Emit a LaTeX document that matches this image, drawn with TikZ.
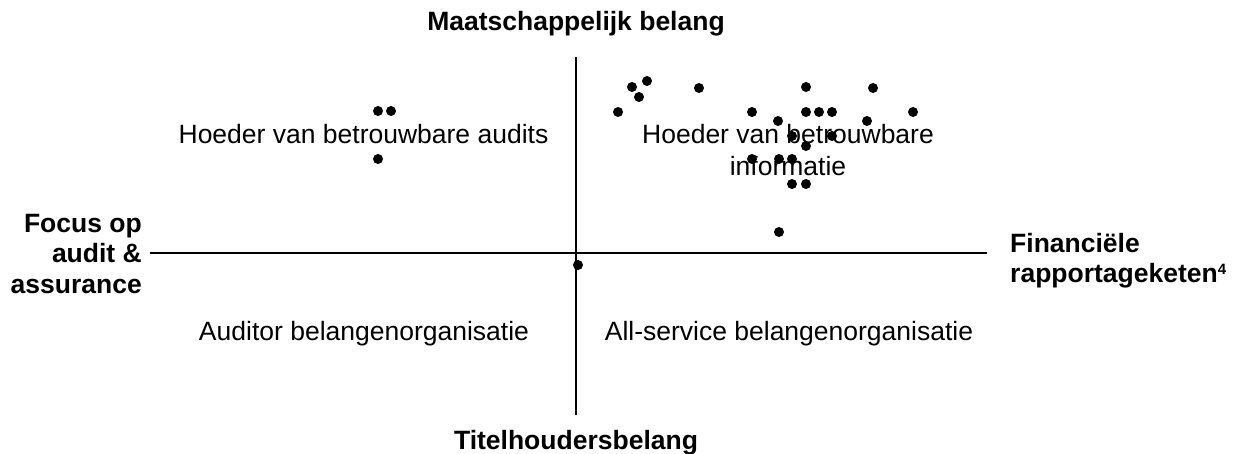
\documentclass[tikz,border=0pt]{standalone}
\usepackage{fontspec}
\setmainfont{Liberation Sans}
\begin{document}
\begin{tikzpicture}[x=1pt,y=-1pt,
  lbl/.style={font=\fontsize{26.5}{30.5}\selectfont, inner sep=0pt},
  axlbl/.style={font=\fontsize{26.5}{30.5}\selectfont\bfseries, inner sep=0pt},
  dotn/.style={circle, fill=black, inner sep=0pt, minimum size=10pt},
  axis/.style={line width=1.6pt}]
\useasboundingbox (0,0) rectangle (1246,454);
% axes
\coordinate (top) at (576,57);
\coordinate (bot) at (576,415);
\coordinate (lft) at (150,253);
\coordinate (rgt) at (987,253);
\draw[axis] (top) -- (bot);
\draw[axis] (lft) -- (rgt);
% axis labels
\node[axlbl, anchor=base] (tl) at (576,31) {Maatschappelijk belang};
\node[axlbl, anchor=base] (bl) at (576,449) {Titelhoudersbelang};
\node[axlbl, anchor=north east, align=right] (ll) at (142,214) {Focus op\\audit \&\\assurance};
\node[axlbl, anchor=north west, align=left] (rl) at (1010,233) {Financiële\\rapportageketen\raisebox{8.5pt}{\fontsize{15}{15}\selectfont\bfseries 4}};
% quadrant labels
\node[lbl, anchor=base] (q1) at (363.5,144) {Hoeder van betrouwbare audits};
\node[lbl, anchor=north, align=center, font=\fontsize{26.5}{32.5}\selectfont] (q2) at (788,124) {Hoeder van betrouwbare\\informatie};
\node[lbl, anchor=base] (q3) at (364,340) {Auditor belangenorganisatie};
\node[lbl, anchor=base] (q4) at (789,340) {All-service belangenorganisatie};
% dots
\foreach \x/\y [count=\i] in {618/112,632/87,647/81,639/97,699/88,752/112,778/121,806/87,806/112,819/112,832/112,873/88,867/121,913/112,792/136,832/136,806/146,752/159,779/159,792/159,792/184,806/184,779/232,378/111,391/111,378/159,578/265}
  \node[dotn] (d\i) at (\x,\y) {};
\end{tikzpicture}
\end{document}
